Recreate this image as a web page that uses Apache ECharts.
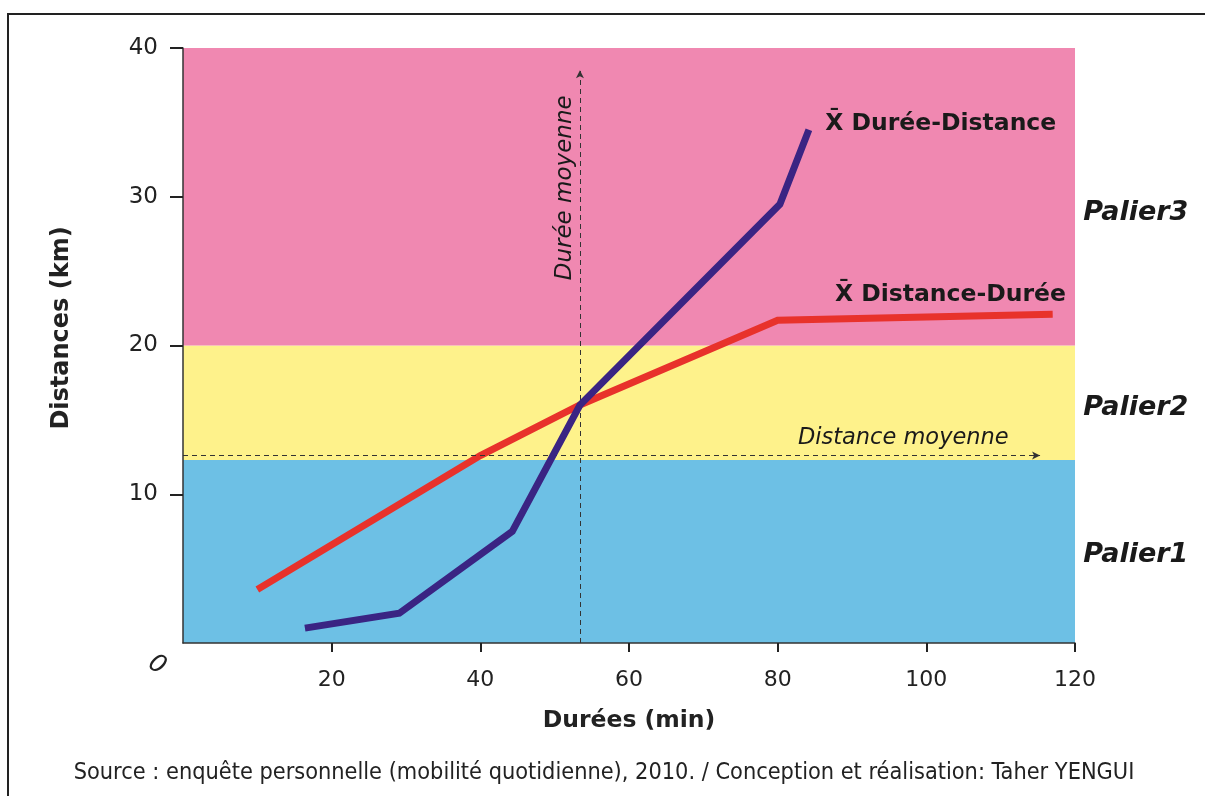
<!DOCTYPE html>
<html>
<head>
<meta charset="utf-8">
<script src="https://cdn.jsdelivr.net/npm/echarts@6/dist/echarts.min.js"></script>
<style>
html,body{margin:0;padding:0;background:#fff;}
#chart{width:1205px;height:796px;}
</style>
</head>
<body>
<div id="chart"></div>
<script>
// ---- data ----
const xTicks = [0, 20, 40, 60, 80, 100, 120];
const yTicks = [0, 10, 20, 30, 40];
const distanceDuree = [[10, 3.6], [40, 12.6], [53.4, 16.0], [80, 21.7], [117, 22.1]];
const dureeDistance = [[16.4, 1.0], [29.1, 2.0], [44.3, 7.5], [53.4, 16.0], [80.3, 29.5], [84.2, 34.5]];
const paliers = [
  { name: 'Palier1', from: 0, to: 12.3 },
  { name: 'Palier2', from: 12.3, to: 20 },
  { name: 'Palier3', from: 20, to: 40 }
];
const distanceMoyenne = 12.6;
const dureeMoyenne = 53.4;
const seriesNames = ['X\u0304 Dur\u00e9e-Distance', 'X\u0304 Distance-Dur\u00e9e'];
const xAxisName = 'Dur\u00e9es (min)';
const yAxisName = 'Distances (km)';
const sourceText = 'Source : enqu\u00eate personnelle (mobilit\u00e9 quotidienne), 2010. / Conception et r\u00e9alisation: Taher YENGUI';

const bandColors = ['#6DC0E5', '#FEF28B', '#F088B1'];
const FONT = 'DejaVu Sans';

const chart = echarts.init(document.getElementById('chart'));

const option = {
  animation: false,
  backgroundColor: '#fff',
  grid: { left: 183, right: 130, top: 48, bottom: 153 },
  xAxis: {
    type: 'value', min: 0, max: 120, interval: 20, z: 20,
    name: xAxisName, nameLocation: 'middle', nameGap: 66,
    nameTextStyle: { fontFamily: FONT, fontWeight: 'bold', fontSize: 23.5, color: '#222' },
    axisLine: { show: true, onZero: false, lineStyle: { color: '#333', width: 1.5 } },
    axisTick: { show: true, length: 9, lineStyle: { color: '#222', width: 2 } },
    axisLabel: { showMinLabel: false, margin: 26, fontFamily: FONT, fontSize: 22, color: '#222' },
    splitLine: { show: false }
  },
  yAxis: {
    type: 'value', min: 0, max: 40, interval: 10, z: 20,
    axisLine: { show: true, onZero: false, lineStyle: { color: '#333', width: 1.5 } },
    axisTick: { show: true, length: 13, lineStyle: { color: '#222', width: 2 } },
    axisLabel: { showMinLabel: false, margin: 25, fontFamily: FONT, fontSize: 23, color: '#222' },
    splitLine: { show: false }
  },
  series: [
    {
      type: 'line', data: [], silent: true, z: 1,
      markArea: {
        silent: true,
        data: paliers.map((p, i) => [
          { yAxis: p.from, itemStyle: { color: bandColors[i], opacity: 1 } },
          { yAxis: p.to }
        ])
      }
    },
    {
      type: 'line', data: [], silent: true, z: 3,
      markLine: {
        silent: true,
        symbol: ['none', 'arrow'],
        symbolSize: [6, 8],
        lineStyle: { type: [5, 4], color: '#333', width: 1 },
        label: { show: false },
        data: [
          [{ coord: [0, distanceMoyenne] }, { coord: [115.3, distanceMoyenne] }],
          [{ coord: [dureeMoyenne, 0] }, { coord: [dureeMoyenne, 38.5] }]
        ]
      }
    },
    {
      name: seriesNames[1], type: 'line', data: distanceDuree, z: 4,
      symbol: 'none', lineStyle: { color: '#E8322B', width: 7, cap: 'butt', join: 'miter' }
    },
    {
      name: seriesNames[0], type: 'line', data: dureeDistance, z: 5,
      symbol: 'none', lineStyle: { color: '#3A2483', width: 7, cap: 'butt', join: 'miter' }
    }
  ]
};
chart.setOption(option);

function px(x, y) { return chart.convertToPixel({ gridIndex: 0 }, [x, y]); }

const graphics = [];
const Z = 100;
// frame
graphics.push({ type: 'rect', z: Z, shape: { x: 8, y: 14, width: 1210, height: 800 }, style: { fill: 'none', stroke: '#222', lineWidth: 2 }, silent: true });
// y axis title
graphics.push({ type: 'text', z: Z, x: 62, y: 328, rotation: Math.PI / 2, style: { text: yAxisName, fontFamily: FONT, fontWeight: 'bold', fontSize: 24, fill: '#222', align: 'center', verticalAlign: 'middle' } });
// stylised origin zero
const o = px(0, 0);
graphics.push({ type: 'text', z: Z, x: o[0] - 26, y: o[1] + 22, rotation: -0.55, style: { text: '0', fontFamily: FONT, fontStyle: 'italic', fontSize: 25, fill: '#222', align: 'center', verticalAlign: 'middle' } });
// series labels
let p = px(86.4, 34.9);
graphics.push({ type: 'text', z: Z, x: p[0], y: p[1], style: { text: seriesNames[0], fontFamily: FONT, fontWeight: 'bold', fontSize: 23.5, fill: '#1a1a1a', align: 'left', verticalAlign: 'middle' } });
p = px(87.7, 23.4);
graphics.push({ type: 'text', z: Z, x: p[0], y: p[1], style: { text: seriesNames[1], fontFamily: FONT, fontWeight: 'bold', fontSize: 23.5, fill: '#1a1a1a', align: 'left', verticalAlign: 'middle' } });
// mean labels
p = px(96.9, 13.8);
graphics.push({ type: 'text', z: Z, x: p[0], y: p[1], style: { text: 'Distance moyenne', fontFamily: FONT, fontStyle: 'italic', fontSize: 22.5, fill: '#1a1a1a', align: 'center', verticalAlign: 'middle' } });
p = px(51.4, 30.6);
graphics.push({ type: 'text', z: Z, x: p[0], y: p[1], rotation: Math.PI / 2, style: { text: 'Dur\u00e9e moyenne', fontFamily: FONT, fontStyle: 'italic', fontSize: 23, fill: '#1a1a1a', align: 'center', verticalAlign: 'middle' } });
// palier labels
const palierY = [5.9, 15.8, 28.9];
paliers.forEach((pl, i) => {
  const q = px(121.1, palierY[i]);
  graphics.push({ type: 'text', z: Z, x: q[0], y: q[1], style: { text: pl.name, fontFamily: FONT, fontWeight: 'bold', fontStyle: 'italic', fontSize: 27, fill: '#1a1a1a', align: 'left', verticalAlign: 'middle' } });
});
// source
graphics.push({ type: 'text', z: Z, x: 604, y: 773, style: { text: sourceText, fontFamily: 'DejaVu Sans Condensed, DejaVu Sans', fontSize: 23.3, fill: '#222', align: 'center', verticalAlign: 'middle' } });

chart.setOption({ graphic: graphics });
</script>
</body>
</html>
